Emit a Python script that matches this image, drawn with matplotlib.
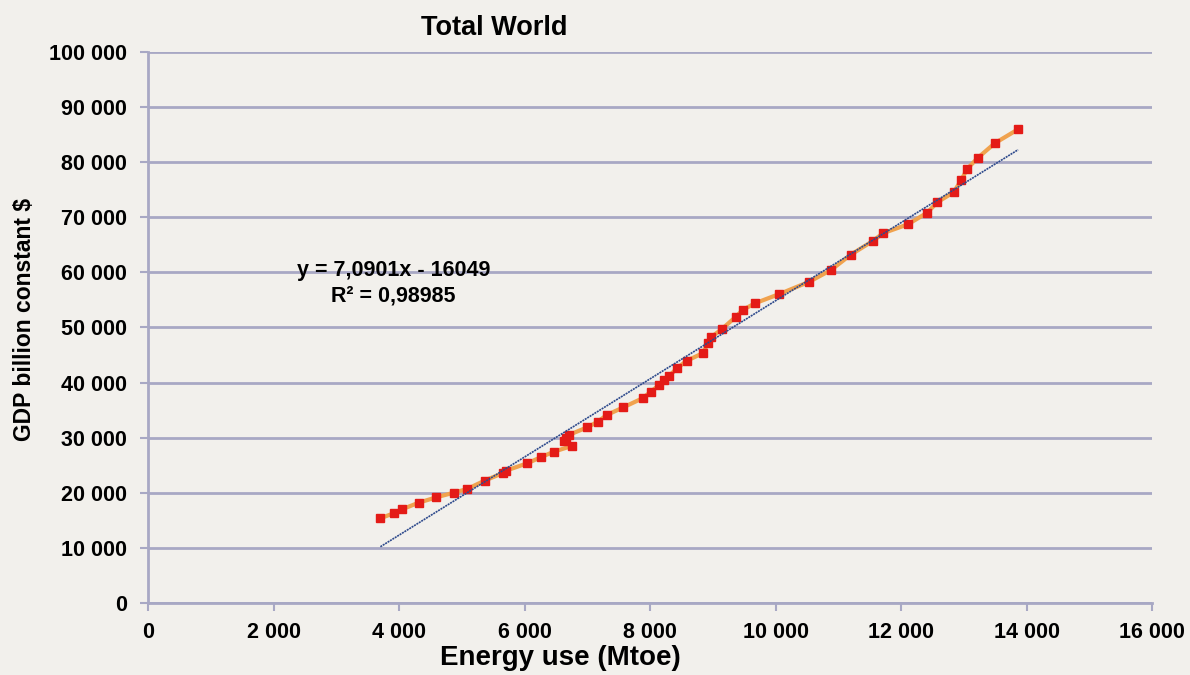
import matplotlib.pyplot as plt
import matplotlib.ticker as mticker
import numpy as np

# Energy use (Mtoe) vs GDP (billion constant $)
energy = [3703, 3915, 4049, 4314, 4597, 4873, 5087, 5363, 5660, 5700,
          6045, 6257, 6469, 6752, 6624, 6656, 6704, 7002, 7167, 7311,
          7577, 7880, 8013, 8145, 8225, 8305, 8428, 8588, 8838, 8928,
          8970, 9141, 9369, 9476, 9673, 10062, 10541, 10885, 11198, 11551,
          11711, 12110, 12418, 12578, 12838, 12961, 13052, 13227, 13493, 13866]
gdp = [15372, 16280, 17005, 18203, 19183, 20018, 20690, 22196, 23600, 24000,
       25354, 26443, 27459, 28494, 29401, 29946, 30490, 31887, 32904, 34120,
       35517, 37151, 38348, 39564, 40472, 41198, 42595, 43975, 45317, 47241,
       48221, 49673, 51960, 53176, 54392, 56080, 58312, 60436, 63200, 65699,
       67096, 68724, 70838, 72722, 74537, 76770, 78766, 80818, 83430, 85971]

# linear trend as printed on the chart
slope = 7.0901
intercept = -16049
r2_text = "0,98985"

x_ticks = list(range(0, 16001, 2000))
y_ticks = list(range(0, 100001, 10000))

bg = '#f2f0ec'
grid_col = '#a8a8c4'

plt.rcParams['font.family'] = ['Liberation Sans', 'DejaVu Sans']

fig = plt.figure(figsize=(11.9, 6.75), dpi=100, facecolor=bg)
ax = fig.add_axes([0.1244, 0.1067, 0.8437, 0.8163])
ax.set_facecolor(bg)

ax.set_xlim(0, 16000)
ax.set_ylim(0, 100000)
ax.set_xticks(x_ticks)
ax.set_yticks(y_ticks)

fmt = mticker.FuncFormatter(lambda v, p: f"{int(v):,}".replace(",", " "))
ax.xaxis.set_major_formatter(fmt)
ax.yaxis.set_major_formatter(fmt)

ax.yaxis.grid(True, color=grid_col, linewidth=2)
ax.set_axisbelow(True)
for s in ['top', 'right']:
    ax.spines[s].set_visible(False)
for s in ['left', 'bottom']:
    ax.spines[s].set_color(grid_col)
    ax.spines[s].set_linewidth(2)
ax.tick_params(axis='both', direction='out', length=6, width=1.5, color=grid_col,
               labelsize=15.5)
ax.tick_params(axis='x', pad=8)
ax.tick_params(axis='y', pad=9)
for lab in ax.get_xticklabels() + ax.get_yticklabels():
    lab.set_fontweight('bold')

# data series
ax.plot(energy, gdp, color='#f0a24e', linewidth=3, zorder=3)
ax.plot(energy, gdp, linestyle='none', marker='s', markersize=5.5,
        color='#e41b17', zorder=4)

# trend line
xt = np.array([min(energy), max(energy)])
ax.plot(xt, slope * xt + intercept, color='#2e4a8c', linewidth=1.2,
        linestyle=(0, (1.2, 0.5)), zorder=5)

ax.text(3910, 60300, f"y = {slope:.4f}x - {abs(intercept)}".replace(".", ","),
        ha='center', va='center', fontsize=15.5, fontweight='bold')
ax.text(3910, 55700, f"R\u00b2 = {r2_text}", ha='center', va='center',
        fontsize=15.5, fontweight='bold')

fig.text(0.415, 0.9585, "Total World", ha='center', va='center',
         fontsize=19.5, fontweight='bold')
fig.text(0.4706, 0.025, "Energy use (Mtoe)", ha='center', va='center',
         fontsize=20, fontweight='bold')
fig.text(0.021, 0.527, "GDP billion constant $", ha='center', va='center',
         rotation=90, fontsize=16.5, fontweight='bold')

fig.savefig('out.png', dpi=100, facecolor=bg)
